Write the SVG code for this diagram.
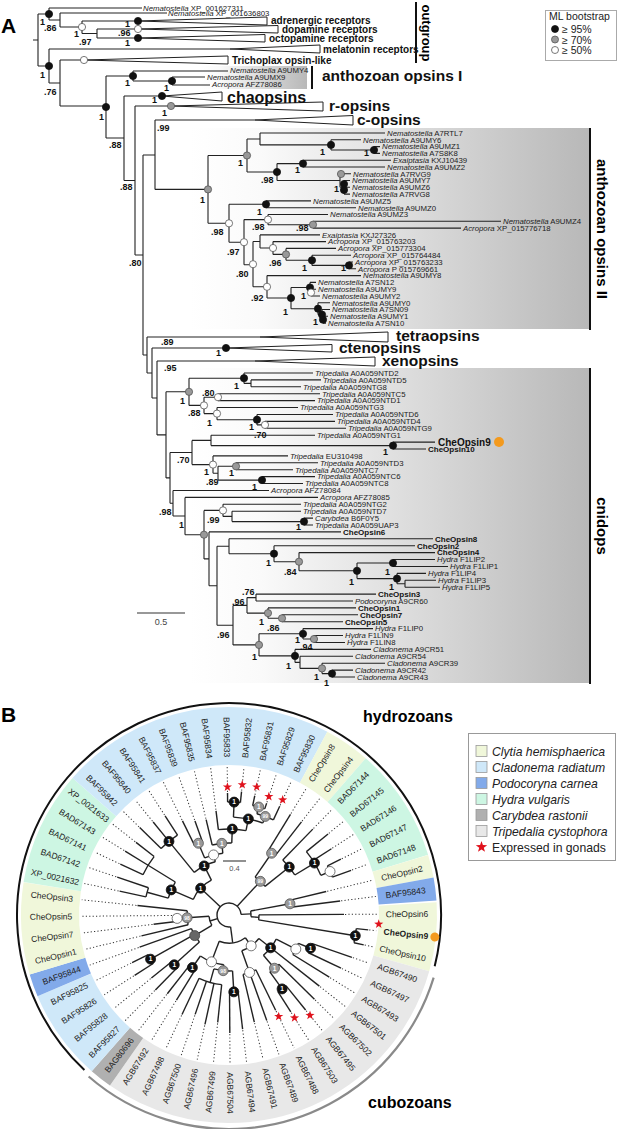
<svg xmlns="http://www.w3.org/2000/svg" xmlns:xlink="http://www.w3.org/1999/xlink" width="617" height="1129" viewBox="0 0 617 1129">
<defs>
<linearGradient id="gr" x1="0" y1="0" x2="1" y2="0"><stop offset="0" stop-color="#fff"/><stop offset="0.18" stop-color="#fafafa"/><stop offset="1" stop-color="#b8b8b8"/></linearGradient>
<path id="star" d="M0-4.8L1.12-1.54L4.57-1.48L1.81.59L2.82 3.88L0 1.9L-2.82 3.88L-1.81.59L-4.57-1.48L-1.12-1.54Z" fill="#e0121c"/>
<style>
text{font-family:"Liberation Sans",Arial,Helvetica,sans-serif}
.lf{font-size:7.8px;fill:#222}
.i{font-style:italic}
.cb{font-size:8px;font-weight:bold;fill:#111}
.sp{font-size:9px;font-weight:bold;fill:#111}
.bg{font-size:15.5px;font-weight:bold;fill:#111}
.og{font-size:10px;font-weight:bold;fill:#111}
.br{fill:none;stroke:#222;stroke-width:1.1}
.tri{fill:#fff;stroke:#222;stroke-width:1}
.nb{fill:#111;stroke:#111;stroke-width:.8}
.ng{fill:#999;stroke:#555;stroke-width:.8}
.nw{fill:#fff;stroke:#555;stroke-width:.8}
.nd{fill:#666;stroke:#444;stroke-width:.8}
.bar{stroke:#111;stroke-width:2}
.bl{fill:none;stroke:#222;stroke-width:1.4}
.ac{fill:none;stroke:#222;stroke-width:1.4}
.dt{fill:none;stroke:#333;stroke-width:1;stroke-dasharray:1.2 2.2}
.bt{font-size:8.5px;fill:#222;text-anchor:middle}
.nt{font-size:6.5px;font-weight:bold;text-anchor:middle}
.lg{font-size:12.2px;fill:#222}
</style>
</defs>
<rect width="617" height="1129" fill="#fff"/>

<g id="panelA">
<text x="1" y="33" style="font-size:21px;font-weight:bold">A</text>

<g id="shading">
<rect x="200" y="66" width="107" height="23" fill="url(#gr)"/>
<rect x="190" y="128" width="399" height="201" fill="url(#gr)"/>
<rect x="190" y="368" width="399" height="315" fill="url(#gr)"/>
<line class="bar" x1="312" y1="66" x2="312" y2="89"/>
<line class="bar" x1="590" y1="128" x2="590" y2="330"/>
<line class="bar" x1="590" y1="368" x2="590" y2="684"/>
<line class="bar" x1="416" y1="2" x2="416" y2="63"/>
</g>

<g id="connectorsA">
<path class="br" d="M33 40H38M38 14V66M38 14H49M49 8V20M49 8H142M49 20H60M60 13V27M60 13H167M60 27H82M82 21V33.5M82 21H138M82 33.5H97M97 29V38M97 29H138M97 38H138M38 66H49M49 49V83M49 49H230M49 83H60M60 60V106M60 60H84M60 106H106M106 76V138M106 76H133M133 71V81M133 71H228M133 81H172M172 77V85M172 77H205M172 85H210M106 138H124M124 96V180.5M124 96H162M124 180.5H135M135 106V255M135 106H171M135 255H143M143 155V355M143 155H155M155 120V189.4M155 120H255M155 189.4H208"/>
<path class="br" d="M208 155.5V223.3M208 155.5H247M247 139V172M247 139H260M260 133V144.9M260 133H385M260 144.9H331M331 139.8V150M331 139.8H361M331 150H374M374 146.6V153.4M374 146.6H380M374 153.4H380M247 172H277M277 163.6V180.5M277 163.6H303M303 160.2V167M303 160.2H391M303 167H385M277 180.5H340M340 173.7V187.3M340 173.7H351M340 187.3H344M344 180.5V194.1M344 180.5H350M344 187.3H350M344 194.1H350M208 223.3H229M229 204.3V242.3M229 204.3H266M266 200.9V207.7M266 200.9H311M266 207.7H356M229 242.3H244M244 219.6V264.8M244 219.6H268M268 214.5V224.7M268 214.5H328M268 224.7H313M313 221.3V228.1M313 221.3H501M313 228.1H461M244 264.8H253M253 241.5V286.8M253 241.5H260M260 234.9V248M260 234.9H320M260 248H273M273 241.6V254.4M273 241.6H326M273 254.4H286M286 248.4V260.3M286 248.4H336M286 260.3H312M312 255.2V265.4M312 255.2H351M312 265.4H349M349 262V268.8M349 262H353M349 268.8H356M253 286.8H267M267 275.6V298M267 275.6H361M267 298H291M291 287.5V308.7M291 287.5H310M291 308.7H318M310 282.4V292.6M310 282.4H316M310 292.6H311M311 289.2V296M311 289.2H316M311 296H320M318 302.8V314.6M318 302.8H330M318 314.6H322M322 309.5V319.7M322 309.5H330M322 319.7H323M323 316.3V323.1M323 316.3H328M323 323.1H326"/>
<path class="br" d="M143 355H147M147 337V373M147 337H260M147 373H152M152 348V398M152 348H226M152 398H157M157 361V434.9M157 361H255M157 434.9H166M166 391.8V477.9M166 391.8H189M189 378.2V405.4M189 378.2H244M244 373V383.4M244 373H313M244 383.4H251M251 379.9V386.8M251 379.9H321M251 386.8H301M189 405.4H204M204 397.2V413.6M204 397.2H218M204 413.6H217M218 393.7V400.6M218 393.7H320M218 400.6H315M217 407.5V419.7M217 407.5H298M217 419.7H257M257 414.5V424.9M257 414.5H333M257 424.9H265M265 421.4V428.3M265 421.4H335M265 428.3H346M166 477.9H170M170 452.5V503.3M170 452.5H192M192 440.4V464.6M192 440.4H211M192 464.6H213M211 435.2V445.6M211 435.2H315M211 445.6H393M393 442.1V449M393 442.1H435M393 449H426M213 455.9V473.2M213 455.9H288M213 473.2H218M218 466.3V480.1M218 466.3H236M218 480.1H262M236 462.8V469.7M236 462.8H318M236 469.7H293M262 476.6V483.5M262 476.6H315M262 483.5H303"/>
<path class="br" d="M170 503.3H173M173 490.5V516M173 490.5H269M173 516H185M185 497.4V534.7M185 497.4H318M185 534.7H204M204 510.4V558.9M204 510.4H223M204 558.9H209M223 504.3V516.4M223 504.3H301M223 516.4H232M232 511.2V521.6M232 511.2H301M232 521.6H304M304 518.1V525M304 518.1H313M304 525H313M209 531.9V585.8M209 531.9H341M209 585.8H217M217 546.3V625.2M217 546.3H229M217 625.2H233M229 538.8V553.7M229 538.8H433M229 553.7H274M274 545.7V561.7M274 545.7H415M274 561.7H299M299 552.6V570.8M299 552.6H435M299 570.8H357M357 563V578.6M357 563H393M357 578.6H397M393 559.5V566.5M393 559.5H435M393 566.5H448M397 573.4V583.8M397 573.4H426M397 583.8H405M405 580.3V587.2M405 580.3H436M405 587.2H440M233 605.4V644.9M233 605.4H247M233 644.9H259M247 597.6V613.1M247 597.6H256M247 613.1H268M256 594.1V601M256 594.1H376M256 601H353M268 607.9V618.3M268 607.9H356M268 618.3H282M282 614.8V621.7M282 614.8H358M282 621.7H343M259 633.8V655.9M259 633.8H303M259 655.9H295M303 628.6V639M303 628.6H373M303 639H314M314 635.5V642.5M314 635.5H343M314 642.5H345M295 649.4V662.4M295 649.4H371M295 662.4H300M300 656.3V668.4M300 656.3H353M300 668.4H322M322 663.2V673.6M322 663.2H385M322 673.6H332M332 670.1V677M332 670.1H353M332 677H355"/>
<polygon class="tri" points="138,21 267,17 267,25"/>
<polygon class="tri" points="138,29 278,25.5 278,33"/>
<polygon class="tri" points="138,38 265,34.5 265,42"/>
<polygon class="tri" points="230,49 320,45 320,53"/>
<polygon class="tri" points="84,60 228,56 228,64"/>
<polygon class="tri" points="162,96 222,92 222,101"/>
<polygon class="tri" points="171,106 323,102 323,111"/>
<polygon class="tri" points="255,120 353,115.5 353,125"/>
<polygon class="tri" points="260,337 388,332 388,342"/>
<polygon class="tri" points="226,348 332,344.5 332,352"/>
<polygon class="tri" points="255,361 375,357 375,366"/>
<line x1="137" y1="613" x2="185" y2="613" stroke="#333" stroke-width="1.2"/>
<text x="161" y="625" text-anchor="middle" style="font-size:9px;fill:#444">0.5</text>
</g>

<g id="nodesA">
<circle class="nb" cx="49" cy="14" r="3.6"/><circle class="nw" cx="82" cy="27" r="3.6"/><circle class="nb" cx="138" cy="21" r="3.6"/><circle class="nw" cx="138" cy="29" r="3.6"/><circle class="nb" cx="138" cy="38" r="3.6"/><circle class="nb" cx="49" cy="66" r="3.6"/><circle class="nw" cx="84" cy="60" r="3.6"/><circle class="nb" cx="133" cy="76" r="3.6"/><circle class="nb" cx="172" cy="81" r="3.6"/><circle class="nb" cx="106" cy="107" r="3.6"/><circle class="nb" cx="162" cy="96" r="3.6"/><circle class="ng" cx="171" cy="106" r="3.6"/>
<circle class="ng" cx="208" cy="189.4" r="3.6"/><circle class="ng" cx="247" cy="155.5" r="3.6"/><circle class="nb" cx="331" cy="144.9" r="3.6"/><circle class="nb" cx="374" cy="150" r="3.6"/><circle class="nb" cx="303" cy="163.6" r="3.6"/><circle class="nb" cx="277" cy="172" r="3.6"/><circle class="ng" cx="341" cy="174" r="3.6"/><circle class="nb" cx="344" cy="184" r="3.6"/><circle class="nb" cx="344" cy="190" r="3.6"/>
<circle class="nw" cx="229" cy="223.3" r="3.6"/><circle class="nb" cx="266" cy="204.3" r="3.6"/><circle class="nw" cx="268" cy="219.6" r="3.6"/><circle class="ng" cx="313" cy="224.7" r="3.6"/><circle class="nw" cx="244" cy="242.2" r="3.6"/><circle class="nw" cx="273" cy="248" r="3.6"/><circle class="ng" cx="286" cy="254.4" r="3.6"/><circle class="nb" cx="312" cy="260.3" r="3.6"/><circle class="nb" cx="349" cy="265.4" r="3.6"/><circle class="nw" cx="253" cy="264.2" r="3.6"/><circle class="nw" cx="267" cy="286.8" r="3.6"/><circle class="nb" cx="310" cy="287.5" r="3.6"/><circle class="nw" cx="311" cy="292.6" r="3.6"/><circle class="nb" cx="291" cy="298" r="3.6"/><circle class="nb" cx="318" cy="308.7" r="3.6"/><circle class="nb" cx="322" cy="314.6" r="3.6"/><circle class="nb" cx="323" cy="319.7" r="3.6"/>
<circle class="nb" cx="226" cy="348" r="3.6"/><circle class="ng" cx="189" cy="391.8" r="3.6"/><circle class="nb" cx="244" cy="378.2" r="3.6"/><circle class="nw" cx="218" cy="397.2" r="3.6"/><circle class="nw" cx="204" cy="405.4" r="3.6"/><circle class="nw" cx="217" cy="413.6" r="3.6"/><circle class="nb" cx="257" cy="419.7" r="3.6"/><circle class="nw" cx="265" cy="424.9" r="3.6"/><circle class="nb" cx="393" cy="445.6" r="3.6"/><circle class="nw" cx="213" cy="464.6" r="3.6"/><circle class="ng" cx="236" cy="466.3" r="3.6"/><circle class="nb" cx="262" cy="480.1" r="3.6"/><circle class="nw" cx="223" cy="510.4" r="3.6"/><circle class="nb" cx="304" cy="521.6" r="3.6"/><circle class="ng" cx="204" cy="534.7" r="3.6"/>
<circle class="nb" cx="274" cy="553.7" r="3.6"/><circle class="ng" cx="299" cy="561.7" r="3.6"/><circle class="nb" cx="357" cy="570.8" r="3.6"/><circle class="nb" cx="393" cy="563" r="3.6"/><circle class="nb" cx="397" cy="578.6" r="3.6"/><circle class="ng" cx="268" cy="613.1" r="3.6"/><circle class="ng" cx="282" cy="618.3" r="3.6"/><circle class="ng" cx="259" cy="644.9" r="3.6"/><circle class="nb" cx="303" cy="633.8" r="3.6"/><circle class="ng" cx="314" cy="639" r="3.6"/><circle class="nb" cx="295" cy="655.9" r="3.6"/><circle class="ng" cx="322" cy="668.4" r="3.6"/><circle class="nb" cx="332" cy="673.6" r="3.6"/>
<circle cx="499" cy="442" r="5" fill="#f39a1e"/>
</g>

<g id="supportA" class="sp">
<text x="40" y="25" class="sp">1</text><text x="44" y="31" class="sp">.86</text><text x="74" y="37" class="sp">1</text><text x="79" y="45" class="sp">.97</text><text x="125" y="27" class="sp">1</text><text x="118" y="36" class="sp">.96</text><text x="125" y="46" class="sp">1</text><text x="40" y="78" class="sp">1</text><text x="44" y="95" class="sp">.76</text><text x="125" y="86" class="sp">1</text><text x="164" y="91" class="sp">1</text><text x="99" y="120" class="sp">1</text><text x="152" y="103" class="sp">1</text><text x="162" y="116" class="sp">1</text><text x="157" y="131" class="sp">.99</text><text x="109" y="148" class="sp">.88</text><text x="120" y="190" class="sp">.88</text><text x="129" y="266" class="sp">.80</text>
<text x="200" y="203" class="sp">1</text><text x="238" y="166" class="sp">1</text><text x="295" y="173" class="sp">1</text><text x="261" y="183" class="sp">.98</text><text x="211" y="235" class="sp">.98</text><text x="257" y="215" class="sp">1</text><text x="252" y="230" class="sp">.98</text><text x="296" y="231" class="sp">.98</text><text x="227" y="255" class="sp">.97</text><text x="269" y="266" class="sp">.96</text><text x="302" y="271" class="sp">1</text><text x="236" y="277" class="sp">.80</text><text x="320" y="155" class="sp">1</text><text x="364" y="156" class="sp">1</text><text x="334" y="192" class="sp">1</text><text x="341" y="271" class="sp">1</text><text x="251" y="301" class="sp">.92</text><text x="301" y="299" class="sp">1</text><text x="283" y="315" class="sp">1</text><text x="313" y="325" class="sp">1</text>
<text x="161" y="345" class="sp">.89</text><text x="216" y="356" class="sp">1</text><text x="164" y="371" class="sp">.95</text><text x="180" y="404" class="sp">1</text><text x="234" y="389" class="sp">1</text><text x="202" y="396" class="sp">.80</text><text x="188" y="416" class="sp">.88</text><text x="207" y="426" class="sp">1</text><text x="249" y="430" class="sp">1</text><text x="254" y="438" class="sp">.70</text><text x="383" y="455" class="sp">1</text><text x="177" y="463" class="sp">.70</text><text x="204" y="475" class="sp">1</text><text x="229" y="476" class="sp">1</text><text x="206" y="485" class="sp">.89</text><text x="252" y="490" class="sp">1</text><text x="159" y="515" class="sp">.98</text><text x="179" y="528" class="sp">1</text><text x="207" y="523" class="sp">.99</text><text x="296" y="530" class="sp">1</text>
<text x="266" y="566" class="sp">1</text><text x="284" y="575" class="sp">.84</text><text x="349" y="585" class="sp">1</text><text x="385" y="575" class="sp">1</text><text x="389" y="590" class="sp">1</text><text x="242" y="595" class="sp">.76</text><text x="232" y="605" class="sp">.96</text><text x="259" y="625" class="sp">1</text><text x="267" y="631" class="sp">.86</text><text x="217" y="638" class="sp">.96</text><text x="295" y="643" class="sp">1</text><text x="300" y="650" class="sp">.94</text><text x="252" y="660" class="sp">1</text><text x="286" y="669" class="sp">1</text><text x="314" y="680" class="sp">1</text><text x="324" y="686" class="sp">1</text>
</g>

<g id="cladeLabelsA">
<text class="og" x="271" y="24">adrenergic receptors</text>
<text class="og" x="282" y="32.5">dopamine receptors</text>
<text class="og" x="269" y="41.5">octopamine receptors</text>
<text class="og" x="323" y="52.5">melatonin receptors</text>
<text class="og" x="232" y="63.5">Trichoplax opsin-like</text>
<text class="bg" x="322" y="81">anthozoan opsins I</text>
<text class="bg" x="227" y="102.5" style="font-size:16px">chaopsins</text>
<text class="bg" x="329" y="111">r-opsins</text>
<text class="bg" x="357" y="125">c-opsins</text>
<text class="bg" x="396" y="341">tetraopsins</text>
<text class="bg" x="339" y="353">ctenopsins</text>
<text class="bg" x="382" y="366">xenopsins</text>
<text x="422" y="33" transform="rotate(90 422 33)" text-anchor="middle" style="font-size:13px;font-weight:bold">outgroup</text>
<text x="597" y="229" transform="rotate(90 597 229)" text-anchor="middle" style="font-size:15px;font-weight:bold">anthozoan opsins II</text>
<text x="597" y="526" transform="rotate(90 597 526)" text-anchor="middle" style="font-size:15px;font-weight:bold">cnidops</text>
</g>

<g id="leavesA" class="lf">
<text class="lf" x="143" y="10.5"><tspan class="i">Nematostella</tspan> XP_001627311</text>
<text class="lf" x="168" y="15.5"><tspan class="i">Nematostella</tspan> XP_001636803</text>
<text class="lf" x="230" y="73"><tspan class="i">Nematostella</tspan> A9UMY4</text>
<text class="lf" x="207" y="79.5"><tspan class="i">Nematostella</tspan> A9UMX9</text>
<text class="lf" x="212" y="87"><tspan class="i">Acropora</tspan> AFZ78086</text>
<text class="lf" x="387" y="135.8"><tspan class="i">Nematostella</tspan> A7RTL7</text>
<text class="lf" x="363" y="142.6"><tspan class="i">Nematostella</tspan> A9UMY6</text>
<text class="lf" x="382" y="149.4"><tspan class="i">Nematostella</tspan> A9UMZ1</text>
<text class="lf" x="382" y="156.2"><tspan class="i">Nematostella</tspan> A7S8K8</text>
<text class="lf" x="393" y="163"><tspan class="i">Exaiptasia</tspan> KXJ10439</text>
<text class="lf" x="387" y="169.8"><tspan class="i">Nematostella</tspan> A9UMZ2</text>
<text class="lf" x="353" y="176.5"><tspan class="i">Nematostella</tspan> A7RVG9</text>
<text class="lf" x="352" y="183.3"><tspan class="i">Nematostella</tspan> A9UMY7</text>
<text class="lf" x="352" y="190.1"><tspan class="i">Nematostella</tspan> A9UMZ6</text>
<text class="lf" x="352" y="196.9"><tspan class="i">Nematostella</tspan> A7RVG8</text>
<text class="lf" x="313" y="203.7"><tspan class="i">Nematostella</tspan> A9UMZ5</text>
<text class="lf" x="358" y="210.5"><tspan class="i">Nematostella</tspan> A9UMZ0</text>
<text class="lf" x="330" y="217.3"><tspan class="i">Nematostella</tspan> A9UMZ3</text>
<text class="lf" x="503" y="224.1"><tspan class="i">Nematostella</tspan> A9UMZ4</text>
<text class="lf" x="463" y="230.9"><tspan class="i">Acropora</tspan> XP_015776718</text>
<text class="lf" x="322" y="237.7"><tspan class="i">Exaiptasia</tspan> KXJ27326</text>
<text class="lf" x="328" y="244.4"><tspan class="i">Acropora</tspan> XP_015763203</text>
<text class="lf" x="338" y="251.2"><tspan class="i">Acropora</tspan> XP_015773304</text>
<text class="lf" x="353" y="258"><tspan class="i">Acropora</tspan> XP_015764484</text>
<text class="lf" x="355" y="264.8"><tspan class="i">Acropora</tspan> XP_015763233</text>
<text class="lf" x="358" y="271.6"><tspan class="i">Acropora</tspan> P 015769661</text>
<text class="lf" x="363" y="278.4"><tspan class="i">Nematostella</tspan> A9UMY8</text>
<text class="lf" x="318" y="285.2"><tspan class="i">Nematostella</tspan> A7SN12</text>
<text class="lf" x="318" y="292"><tspan class="i">Nematostella</tspan> A9UMY9</text>
<text class="lf" x="322" y="298.8"><tspan class="i">Nematostella</tspan> A9UMY2</text>
<text class="lf" x="332" y="305.6"><tspan class="i">Nematostella</tspan> A9UMY0</text>
<text class="lf" x="332" y="312.3"><tspan class="i">Nematostella</tspan> A7SN09</text>
<text class="lf" x="330" y="319.1"><tspan class="i">Nematostella</tspan> A9UMY1</text>
<text class="lf" x="328" y="325.9"><tspan class="i">Nematostella</tspan> A7SN10</text>
<text class="lf" x="315" y="375.8"><tspan class="i">Tripedalia</tspan> A0A059NTD2</text>
<text class="lf" x="323" y="382.7"><tspan class="i">Tripedalia</tspan> A0A059NTD5</text>
<text class="lf" x="303" y="389.6"><tspan class="i">Tripedalia</tspan> A0A059NTG8</text>
<text class="lf" x="322" y="396.5"><tspan class="i">Tripedalia</tspan> A0A059NTC5</text>
<text class="lf" x="317" y="403.4"><tspan class="i">Tripedalia</tspan> A0A059NTD1</text>
<text class="lf" x="300" y="410.3"><tspan class="i">Tripedalia</tspan> A0A059NTG3</text>
<text class="lf" x="335" y="417.3"><tspan class="i">Tripedalia</tspan> A0A059NTD6</text>
<text class="lf" x="337" y="424.2"><tspan class="i">Tripedalia</tspan> A0A059NTD4</text>
<text class="lf" x="348" y="431.1"><tspan class="i">Tripedalia</tspan> A0A059NTG9</text>
<text class="lf" x="317" y="438"><tspan class="i">Tripedalia</tspan> A0A059NTG1</text>
<text x="438" y="445.6" style="font-size:10px;font-weight:bold;fill:#111">CheOpsin9</text>
<text class="cb" x="428" y="451.8">CheOpsin10</text>
<text class="lf" x="290" y="458.7"><tspan class="i">Tripedalia</tspan> EU310498</text>
<text class="lf" x="320" y="465.6"><tspan class="i">Tripedalia</tspan> A0A059NTD3</text>
<text class="lf" x="295" y="472.5"><tspan class="i">Tripedalia</tspan> A0A059NTC7</text>
<text class="lf" x="317" y="479.4"><tspan class="i">Tripedalia</tspan> A0A059NTC6</text>
<text class="lf" x="305" y="486.3"><tspan class="i">Tripedalia</tspan> A0A059NTC8</text>
<text class="lf" x="271" y="493.3"><tspan class="i">Acropora</tspan> AFZ78084</text>
<text class="lf" x="320" y="500.2"><tspan class="i">Acropora</tspan> AFZ78085</text>
<text class="lf" x="303" y="507.1"><tspan class="i">Tripedalia</tspan> A0A059NTG2</text>
<text class="lf" x="303" y="514"><tspan class="i">Tripedalia</tspan> A0A059NTD7</text>
<text class="lf" x="315" y="520.9"><tspan class="i">Carybdea</tspan> B6F0Y5</text>
<text class="lf" x="315" y="527.8"><tspan class="i">Tripedalia</tspan> A0A059UAP3</text>
<text class="cb" x="343" y="534.7">CheOpsin6</text>
<text class="cb" x="435" y="541.6">CheOpsin8</text>
<text class="cb" x="417" y="548.5">CheOpsin2</text>
<text class="cb" x="437" y="555.4">CheOpsin4</text>
<text class="lf" x="437" y="562.3"><tspan class="i">Hydra</tspan> F1LIP2</text>
<text class="lf" x="450" y="569.3"><tspan class="i">Hydra</tspan> F1LIP1</text>
<text class="lf" x="428" y="576.2"><tspan class="i">Hydra</tspan> F1LIP4</text>
<text class="lf" x="438" y="583.1"><tspan class="i">Hydra</tspan> F1LIP3</text>
<text class="lf" x="442" y="590"><tspan class="i">Hydra</tspan> F1LIP5</text>
<text class="cb" x="378" y="596.9">CheOpsin3</text>
<text class="lf" x="355" y="603.8"><tspan class="i">Podocoryna</tspan> A9CR60</text>
<text class="cb" x="358" y="610.7">CheOpsin1</text>
<text class="cb" x="360" y="617.6">CheOpsin7</text>
<text class="cb" x="345" y="624.5">CheOpsin5</text>
<text class="lf" x="375" y="631.4"><tspan class="i">Hydra</tspan> F1LIP0</text>
<text class="lf" x="345" y="638.3"><tspan class="i">Hydra</tspan> F1LIN9</text>
<text class="lf" x="347" y="645.3"><tspan class="i">Hydra</tspan> F1LIN8</text>
<text class="lf" x="373" y="652.2"><tspan class="i">Cladonema</tspan> A9CR51</text>
<text class="lf" x="355" y="659.1"><tspan class="i">Cladonema</tspan> A9CR54</text>
<text class="lf" x="387" y="666"><tspan class="i">Cladonema</tspan> A9CR39</text>
<text class="lf" x="355" y="672.9"><tspan class="i">Cladonema</tspan> A9CR42</text>
<text class="lf" x="357" y="679.8"><tspan class="i">Cladonema</tspan> A9CR43</text>
</g>

<g id="legendA">
<rect x="545.5" y="10.5" width="71" height="50" fill="#fff" stroke="#aaa"/>
<text x="549" y="20" style="font-size:10.5px;fill:#222">ML bootstrap</text>
<circle class="nb" cx="555" cy="29" r="3.5"/><text x="562" y="33" style="font-size:10.5px;fill:#222">≥ 95%</text>
<circle class="ng" cx="555" cy="39.5" r="3.5"/><text x="562" y="43.5" style="font-size:10.5px;fill:#222">≥ 70%</text>
<circle class="nw" cx="555" cy="50" r="3.5"/><text x="562" y="54" style="font-size:10.5px;fill:#222">≥ 50%</text>
</g>
</g>

<g id="panelB">
<text x="1" y="722" style="font-size:21px;font-weight:bold">B</text>
<text x="363" y="722" style="font-size:16px;font-weight:bold">hydrozoans</text>
<text x="368" y="1108" style="font-size:16px;font-weight:bold">cubozoans</text>
<g transform="translate(229 915)">
<g id="bands" fill="none" stroke-width="58">
<circle r="179" pathLength="360" stroke="#f0f7da" stroke-dasharray="19.22 360" transform="rotate(-3.51)"/>
<circle r="179" pathLength="360" stroke="#e8e8e8" stroke-dasharray="109.2 360" transform="rotate(15.71)"/>
<circle r="179" pathLength="360" stroke="#b0b0b0" stroke-dasharray="6.4 360" transform="rotate(124.91)"/>
<circle r="179" pathLength="360" stroke="#cfe8f9" stroke-dasharray="25.69 360" transform="rotate(131.31)"/>
<circle r="179" pathLength="360" stroke="#82aaea" stroke-dasharray="6.41 360" transform="rotate(157)"/>
<circle r="179" pathLength="360" stroke="#f0f7da" stroke-dasharray="25.69 360" transform="rotate(163.41)"/>
<circle r="179" pathLength="360" stroke="#cdf6e3" stroke-dasharray="32.1 360" transform="rotate(189.1)"/>
<circle r="179" pathLength="360" stroke="#cfe8f9" stroke-dasharray="77 360" transform="rotate(221.2)"/>
<circle r="179" pathLength="360" stroke="#f0f7da" stroke-dasharray="12.9 360" transform="rotate(298.2)"/>
<circle r="179" pathLength="360" stroke="#cdf6e3" stroke-dasharray="32.1 360" transform="rotate(311.1)"/>
<circle r="179" pathLength="360" stroke="#f0f7da" stroke-dasharray="6.4 360" transform="rotate(343.2)"/>
<circle r="179" pathLength="360" stroke="#82aaea" stroke-dasharray="6.4 360" transform="rotate(349.6)"/>
</g>
<circle r="212" pathLength="360" fill="none" stroke="#111" stroke-width="2" stroke-dasharray="241 360" transform="rotate(133)"/>
<circle r="214" pathLength="360" fill="none" stroke="#8a8a8a" stroke-width="2.2" stroke-dasharray="114 360" transform="rotate(17)"/>

<g id="connectorsB">
<g class="ac">
<circle r="12" pathLength="360" stroke-dasharray="274.8 360" transform="rotate(82.4)"/>
<circle r="22" pathLength="360" stroke-dasharray="14.9 360" transform="rotate(349.6)"/>
<circle r="62" pathLength="360" stroke-dasharray="6.4 360" transform="rotate(346.4)"/>
<circle r="30" pathLength="360" stroke-dasharray="9.6 360" transform="rotate(-0.3)"/>
<circle r="128" pathLength="360" stroke-dasharray="6.4 360" transform="rotate(6.1)"/>
<circle r="28" pathLength="360" stroke-dasharray="56.2 360" transform="rotate(54.3)"/>
<circle r="38" pathLength="360" stroke-dasharray="32.05 360" transform="rotate(38.25)"/>
<circle r="53" pathLength="360" stroke-dasharray="22.5 360" transform="rotate(27)"/>
<circle r="75" pathLength="360" stroke-dasharray="9.6 360" transform="rotate(22.2)"/>
<circle r="88" pathLength="360" stroke-dasharray="6.4 360" transform="rotate(19)"/>
<circle r="70" pathLength="360" stroke-dasharray="9.7 360" transform="rotate(44.6)"/>
<circle r="91" pathLength="360" stroke-dasharray="6.4 360" transform="rotate(51.1)"/>
<circle r="61" pathLength="360" stroke-dasharray="12.8 360" transform="rotate(63.9)"/>
<circle r="50" pathLength="360" stroke-dasharray="28.9 360" transform="rotate(96)"/>
<circle r="56" pathLength="360" stroke-dasharray="19.25 360" transform="rotate(86.4)"/>
<circle r="77" pathLength="360" stroke-dasharray="6.4 360" transform="rotate(83.2)"/>
<circle r="70" pathLength="360" stroke-dasharray="19.3 360" transform="rotate(96)"/>
<circle r="64" pathLength="360" stroke-dasharray="6.4 360" transform="rotate(121.7)"/>
<circle r="20" pathLength="360" stroke-dasharray="27.25 360" transform="rotate(149)"/>
<circle r="40" pathLength="360" stroke-dasharray="22.5 360" transform="rotate(137.7)"/>
<circle r="74" pathLength="360" stroke-dasharray="6.4 360" transform="rotate(134.5)"/>
<circle r="90" pathLength="360" stroke-dasharray="6.4 360" transform="rotate(147.4)"/>
<circle r="42" pathLength="360" stroke-dasharray="19.3 360" transform="rotate(166.6)"/>
<circle r="51" pathLength="360" stroke-dasharray="6.5 360" transform="rotate(173)"/>
<circle r="39" pathLength="360" stroke-dasharray="39.7 360" transform="rotate(203.5)"/>
<circle r="63" pathLength="360" stroke-dasharray="16.1 360" transform="rotate(195.5)"/>
<circle r="85" pathLength="360" stroke-dasharray="6.4 360" transform="rotate(192.3)"/>
<circle r="95" pathLength="360" stroke-dasharray="12.9 360" transform="rotate(205.1)"/>
<circle r="55" pathLength="360" stroke-dasharray="24.8 360" transform="rotate(230.8)"/>
<circle r="95" pathLength="360" stroke-dasharray="12.8 360" transform="rotate(224.4)"/>
<circle r="62" pathLength="360" stroke-dasharray="17.4 360" transform="rotate(246.9)"/>
<circle r="78" pathLength="360" stroke-dasharray="6.4 360" transform="rotate(243.7)"/>
<circle r="72" pathLength="360" stroke-dasharray="15.7 360" transform="rotate(256.5)"/>
<circle r="86" pathLength="360" stroke-dasharray="18.5 360" transform="rotate(262.9)"/>
<circle r="98" pathLength="360" stroke-dasharray="17.6 360" transform="rotate(272.6)"/>
<circle r="113" pathLength="360" stroke-dasharray="6.5 360" transform="rotate(269.3)"/>
<circle r="105" pathLength="360" stroke-dasharray="9.6 360" transform="rotate(285.4)"/>
<circle r="112" pathLength="360" stroke-dasharray="6.4 360" transform="rotate(282.2)"/>
<circle r="46" pathLength="360" stroke-dasharray="16.9 360" transform="rotate(304.6)"/>
<circle r="75" pathLength="360" stroke-dasharray="6.5 360" transform="rotate(301.4)"/>
<circle r="77" pathLength="360" stroke-dasharray="14.4 360" transform="rotate(314.3)"/>
<circle r="100" pathLength="360" stroke-dasharray="16 360" transform="rotate(320.7)"/>
<circle r="110" pathLength="360" stroke-dasharray="6.4 360" transform="rotate(333.5)"/>
</g>
<g class="bl">
<path d="M12 0H22" transform="rotate(357.05)"/><path d="M12 0H28" transform="rotate(82.4)"/><path d="M12 0H20" transform="rotate(162.6)"/><path d="M12 0H39" transform="rotate(223.4)"/><path d="M12 0H46" transform="rotate(313)"/>
<path d="M22 0H62" transform="rotate(349.6)"/><path d="M22 0H30" transform="rotate(4.5)"/>
<path d="M62 0H100" transform="rotate(346.4)"/><path d="M62 0H112" transform="rotate(352.8)"/>
<path d="M30 0H115" transform="rotate(-0.3)"/><path d="M30 0H128" transform="rotate(9.3)"/>
<path d="M128 0H140" transform="rotate(6.1)"/><path d="M128 0H138" transform="rotate(12.5)"/>
<path d="M28 0H38" transform="rotate(54.3)"/><path d="M28 0H50" transform="rotate(110.5)"/>
<path d="M38 0H53" transform="rotate(38.25)"/><path d="M38 0H61" transform="rotate(70.3)"/>
<path d="M53 0H75" transform="rotate(27)"/><path d="M53 0H115" transform="rotate(38.2)"/><path d="M53 0H70" transform="rotate(49.5)"/>
<path d="M75 0H88" transform="rotate(22.2)"/><path d="M75 0H118" transform="rotate(31.8)"/>
<path d="M88 0H130" transform="rotate(19)"/><path d="M88 0H124" transform="rotate(25.4)"/>
<path d="M70 0H120" transform="rotate(44.6)"/><path d="M70 0H91" transform="rotate(54.3)"/>
<path d="M91 0H122" transform="rotate(51.1)"/><path d="M91 0H115" transform="rotate(57.5)"/>
<path d="M61 0H106" transform="rotate(63.9)"/><path d="M61 0H112" transform="rotate(70.3)"/><path d="M61 0H110" transform="rotate(76.7)"/>
<path d="M50 0H56" transform="rotate(96)"/><path d="M50 0H64" transform="rotate(124.9)"/>
<path d="M56 0H77" transform="rotate(86.4)"/><path d="M56 0H70" transform="rotate(105.65)"/>
<path d="M77 0H115" transform="rotate(83.2)"/><path d="M77 0H118" transform="rotate(89.6)"/>
<path d="M70 0H108" transform="rotate(96)"/><path d="M70 0H112" transform="rotate(102.4)"/><path d="M70 0H105" transform="rotate(108.8)"/><path d="M70 0H110" transform="rotate(115.3)"/>
<path d="M64 0H100" transform="rotate(121.7)"/><path d="M64 0H100" transform="rotate(128.1)"/>
<path d="M20 0H40" transform="rotate(149)"/><path d="M20 0H42" transform="rotate(176.25)"/>
<path d="M40 0H74" transform="rotate(137.7)"/><path d="M40 0H90" transform="rotate(150.6)"/><path d="M40 0H95" transform="rotate(160.2)"/>
<path d="M74 0H105" transform="rotate(134.5)"/><path d="M74 0H100" transform="rotate(140.9)"/>
<path d="M90 0H112" transform="rotate(147.4)"/><path d="M90 0H108" transform="rotate(153.8)"/>
<path d="M42 0H90" transform="rotate(166.6)"/><path d="M42 0H51" transform="rotate(176.25)"/><path d="M42 0H92" transform="rotate(185.9)"/>
<path d="M51 0H76" transform="rotate(173)"/><path d="M51 0H56" transform="rotate(179.5)"/>
<path d="M39 0H63" transform="rotate(203.5)"/><path d="M39 0H55" transform="rotate(243.2)"/>
<path d="M63 0H85" transform="rotate(195.5)"/><path d="M63 0H95" transform="rotate(211.6)"/>
<path d="M85 0H112" transform="rotate(192.3)"/><path d="M85 0H118" transform="rotate(198.7)"/>
<path d="M95 0H120" transform="rotate(205.1)"/><path d="M95 0H122" transform="rotate(211.6)"/><path d="M95 0H118" transform="rotate(218)"/>
<path d="M55 0H95" transform="rotate(230.8)"/><path d="M55 0H62" transform="rotate(255.6)"/>
<path d="M95 0H125" transform="rotate(224.4)"/><path d="M95 0H120" transform="rotate(230.8)"/><path d="M95 0H118" transform="rotate(237.2)"/>
<path d="M62 0H78" transform="rotate(246.9)"/><path d="M62 0H72" transform="rotate(264.3)"/>
<path d="M78 0H105" transform="rotate(243.7)"/><path d="M78 0H100" transform="rotate(250.1)"/>
<path d="M72 0H98" transform="rotate(256.5)"/><path d="M72 0H86" transform="rotate(272.2)"/>
<path d="M86 0H105" transform="rotate(262.9)"/><path d="M86 0H98" transform="rotate(281.4)"/>
<path d="M98 0H113" transform="rotate(272.6)"/><path d="M98 0H105" transform="rotate(290.2)"/>
<path d="M113 0H122" transform="rotate(269.3)"/><path d="M113 0H124" transform="rotate(275.8)"/>
<path d="M105 0H112" transform="rotate(285.4)"/><path d="M105 0H120" transform="rotate(295)"/>
<path d="M112 0H122" transform="rotate(282.2)"/><path d="M112 0H118" transform="rotate(288.6)"/>
<path d="M46 0H75" transform="rotate(304.6)"/><path d="M46 0H77" transform="rotate(321.5)"/>
<path d="M75 0H118" transform="rotate(301.4)"/><path d="M75 0H118" transform="rotate(307.9)"/>
<path d="M77 0H120" transform="rotate(314.3)"/><path d="M77 0H100" transform="rotate(328.7)"/>
<path d="M100 0H128" transform="rotate(320.7)"/><path d="M100 0H122" transform="rotate(327.1)"/><path d="M100 0H110" transform="rotate(336.7)"/>
<path d="M110 0H125" transform="rotate(333.5)"/><path d="M110 0H130" transform="rotate(339.9)"/>
</g>
<g class="dt">
<path d="M116 0H148" transform="rotate(-0.3)"/><path d="M141 0H148" transform="rotate(6.1)"/><path d="M139 0H148" transform="rotate(12.5)"/><path d="M131 0H148" transform="rotate(19)"/><path d="M125 0H148" transform="rotate(25.4)"/><path d="M119 0H148" transform="rotate(31.8)"/><path d="M116 0H148" transform="rotate(38.2)"/><path d="M121 0H148" transform="rotate(44.6)"/><path d="M123 0H148" transform="rotate(51.1)"/><path d="M116 0H148" transform="rotate(57.5)"/><path d="M107 0H148" transform="rotate(63.9)"/><path d="M113 0H148" transform="rotate(70.3)"/><path d="M111 0H148" transform="rotate(76.7)"/><path d="M116 0H148" transform="rotate(83.2)"/><path d="M119 0H148" transform="rotate(89.6)"/><path d="M109 0H148" transform="rotate(96)"/><path d="M113 0H148" transform="rotate(102.4)"/><path d="M106 0H148" transform="rotate(108.8)"/><path d="M111 0H148" transform="rotate(115.3)"/><path d="M101 0H148" transform="rotate(121.7)"/><path d="M101 0H148" transform="rotate(128.1)"/><path d="M106 0H148" transform="rotate(134.5)"/><path d="M101 0H148" transform="rotate(140.9)"/><path d="M113 0H148" transform="rotate(147.4)"/><path d="M109 0H148" transform="rotate(153.8)"/><path d="M96 0H148" transform="rotate(160.2)"/><path d="M91 0H148" transform="rotate(166.6)"/><path d="M77 0H148" transform="rotate(173)"/><path d="M57 0H148" transform="rotate(179.5)"/><path d="M93 0H148" transform="rotate(185.9)"/><path d="M113 0H148" transform="rotate(192.3)"/><path d="M119 0H148" transform="rotate(198.7)"/><path d="M121 0H148" transform="rotate(205.1)"/><path d="M123 0H148" transform="rotate(211.6)"/><path d="M119 0H148" transform="rotate(218)"/><path d="M126 0H148" transform="rotate(224.4)"/><path d="M121 0H148" transform="rotate(230.8)"/><path d="M119 0H148" transform="rotate(237.2)"/><path d="M106 0H148" transform="rotate(243.7)"/><path d="M101 0H148" transform="rotate(250.1)"/><path d="M99 0H148" transform="rotate(256.5)"/><path d="M106 0H148" transform="rotate(262.9)"/><path d="M123 0H148" transform="rotate(269.3)"/><path d="M125 0H148" transform="rotate(275.8)"/><path d="M123 0H148" transform="rotate(282.2)"/><path d="M119 0H148" transform="rotate(288.6)"/><path d="M121 0H148" transform="rotate(295)"/><path d="M119 0H148" transform="rotate(301.4)"/><path d="M119 0H148" transform="rotate(307.9)"/><path d="M121 0H148" transform="rotate(314.3)"/><path d="M129 0H148" transform="rotate(320.7)"/><path d="M123 0H148" transform="rotate(327.1)"/><path d="M126 0H148" transform="rotate(333.5)"/><path d="M131 0H148" transform="rotate(339.9)"/><path d="M101 0H148" transform="rotate(346.4)"/><path d="M113 0H148" transform="rotate(352.8)"/>
</g>
</g>

<g id="nodesB">
<g transform="rotate(349.6) translate(62 0) rotate(-349.6)"><circle r="5" class="ng"/><text class="nt" y="2.3" fill="#fff">1</text></g>
<g transform="rotate(9.3) translate(128 0) rotate(-9.3)"><circle r="5" class="nb"/><text class="nt" y="2.3" fill="#fff">1</text></g>
<g transform="rotate(27) translate(75 0) rotate(-27)"><circle r="5" class="nw"/></g>
<g transform="rotate(22.2) translate(88 0) rotate(-22.2)"><circle r="5" class="nb"/><text class="nt" y="2.3" fill="#fff">1</text></g>
<g transform="rotate(38.25) translate(53 0) rotate(-38.25)"><circle r="5" class="nb"/><text class="nt" y="2.3" fill="#fff">1</text></g>
<g transform="rotate(49.5) translate(70 0) rotate(-49.5)"><circle r="5" class="ng"/><text class="nt" y="2.3" fill="#fff">1</text></g>
<g transform="rotate(54.3) translate(91 0) rotate(-54.3)"><circle r="5" class="nb"/><text class="nt" y="2.3" fill="#fff">1</text></g>
<g transform="rotate(54.3) translate(38 0) rotate(-54.3)"><circle r="5" class="nw"/></g>
<g transform="rotate(70.3) translate(61 0) rotate(-70.3)"><circle r="5" class="nw"/></g>
<g transform="rotate(110.5) translate(50 0) rotate(-110.5)"><circle r="5" class="nw"/></g>
<g transform="rotate(96) translate(56 0) rotate(-96)"><circle r="5" class="ng"/><text class="nt" y="2" fill="#fff" style="font-size:5px">98</text></g>
<g transform="rotate(86.4) translate(77 0) rotate(-86.4)"><circle r="5" class="nb"/><text class="nt" y="2.3" fill="#fff">1</text></g>
<g transform="rotate(124.9) translate(64 0) rotate(-124.9)"><circle r="5" class="nb"/><text class="nt" y="2.3" fill="#fff">1</text></g>
<g transform="rotate(149) translate(40 0) rotate(-149)"><circle r="5" class="nd"/></g>
<g transform="rotate(137.7) translate(74 0) rotate(-137.7)"><circle r="5" class="nb"/><text class="nt" y="2.3" fill="#fff">1</text></g>
<g transform="rotate(150.6) translate(90 0) rotate(-150.6)"><circle r="5" class="nb"/><text class="nt" y="2.3" fill="#fff">1</text></g>
<g transform="rotate(176.25) translate(42 0) rotate(-176.25)"><circle r="5" class="ng"/><text class="nt" y="2" fill="#fff" style="font-size:5px">98</text></g>
<g transform="rotate(176.25) translate(52 0) rotate(-176.25)"><circle r="5" class="nw"/></g>
<g transform="rotate(223.4) translate(39 0) rotate(-223.4)"><circle r="5" class="nb"/><text class="nt" y="2.3" fill="#fff">1</text></g>
<g transform="rotate(203.5) translate(63 0) rotate(-203.5)"><circle r="5" class="nb"/><text class="nt" y="2.3" fill="#fff">1</text></g>
<g transform="rotate(243.2) translate(55 0) rotate(-243.2)"><circle r="5" class="nb"/><text class="nt" y="2.3" fill="#fff">1</text></g>
<g transform="rotate(230.8) translate(95 0) rotate(-230.8)"><circle r="5" class="nb"/><text class="nt" y="2.3" fill="#fff">1</text></g>
<g transform="rotate(255.6) translate(62 0) rotate(-255.6)"><circle r="5" class="nw"/></g>
<g transform="rotate(246.9) translate(78 0) rotate(-246.9)"><circle r="5" class="ng"/><text class="nt" y="2.3" fill="#fff">1</text></g>
<g transform="rotate(264.3) translate(72 0) rotate(-264.3)"><circle r="5" class="ng"/><text class="nt" y="2.3" fill="#fff">1</text></g>
<g transform="rotate(272.2) translate(86 0) rotate(-272.2)"><circle r="5" class="nb"/><text class="nt" y="2.3" fill="#fff">1</text></g>
<g transform="rotate(281.4) translate(98 0) rotate(-281.4)"><circle r="5" class="nb"/><text class="nt" y="2.3" fill="#fff">1</text></g>
<g transform="rotate(272.6) translate(113 0) rotate(-272.6)"><circle r="5" class="nb"/><text class="nt" y="2.3" fill="#fff">1</text></g>
<g transform="rotate(290.2) translate(105 0) rotate(-290.2)"><circle r="5" class="ng"/><text class="nt" y="2" fill="#fff" style="font-size:5px">99</text></g>
<g transform="rotate(285.4) translate(112 0) rotate(-285.4)"><circle r="5" class="ng"/><text class="nt" y="2.3" fill="#fff">1</text></g>
<g transform="rotate(313) translate(46 0) rotate(-313)"><circle r="5" class="ng"/><text class="nt" y="2" fill="#fff" style="font-size:5px">99</text></g>
<g transform="rotate(304.6) translate(75 0) rotate(-304.6)"><circle r="5" class="ng"/><text class="nt" y="2.3" fill="#fff">1</text></g>
<g transform="rotate(321.5) translate(77 0) rotate(-321.5)"><circle r="5" class="nb"/><text class="nt" y="2.3" fill="#fff">1</text></g>
<g transform="rotate(328.7) translate(100 0) rotate(-328.7)"><circle r="5" class="nb"/><text class="nt" y="2.3" fill="#fff">1</text></g>
<g transform="rotate(336.7) translate(110 0) rotate(-336.7)"><circle r="5" class="nw"/></g>
</g>

<g id="stars">
<use xlink:href="#star" href="#star" transform="rotate(269.3) translate(128 0) rotate(-269.3)"/>
<use xlink:href="#star" href="#star" transform="rotate(275.8) translate(131 0) rotate(-275.8)"/>
<use xlink:href="#star" href="#star" transform="rotate(282.2) translate(131 0) rotate(-282.2)"/>
<use xlink:href="#star" href="#star" transform="rotate(288.6) translate(125 0) rotate(-288.6)"/>
<use xlink:href="#star" href="#star" transform="rotate(295) translate(127 0) rotate(-295)"/>
<use xlink:href="#star" href="#star" transform="rotate(51.1) translate(129 0) rotate(-51.1)"/>
<use xlink:href="#star" href="#star" transform="rotate(57.5) translate(122 0) rotate(-57.5)"/>
<use xlink:href="#star" href="#star" transform="rotate(63.9) translate(113 0) rotate(-63.9)"/>
<use xlink:href="#star" href="#star" transform="rotate(3.5) translate(150 0) rotate(-3.5)"/>
<circle r="4.5" fill="#f39a1e" transform="rotate(6.1) translate(207 0)"/>
</g>

<g id="labelsB" class="bt">
<text class="bt" dy="3" transform="rotate(-0.3) translate(178 0)">CheOpsin6</text>
<text class="bt" dy="3" transform="rotate(6.1) translate(178 0)" style="font-weight:bold">CheOpsin9</text>
<text class="bt" dy="3" transform="rotate(12.5) translate(178 0)">CheOpsin10</text>
<text class="bt" dy="3" transform="rotate(19) translate(178 0)">AGB67490</text>
<text class="bt" dy="3" transform="rotate(25.4) translate(178 0)">AGB67497</text>
<text class="bt" dy="3" transform="rotate(31.8) translate(178 0)">AGB67493</text>
<text class="bt" dy="3" transform="rotate(38.2) translate(178 0)">AGB67501</text>
<text class="bt" dy="3" transform="rotate(44.6) translate(178 0)">AGB67502</text>
<text class="bt" dy="3" transform="rotate(51.1) translate(178 0)">AGB67495</text>
<text class="bt" dy="3" transform="rotate(57.5) translate(178 0)">AGB67503</text>
<text class="bt" dy="3" transform="rotate(63.9) translate(178 0)">AGB67488</text>
<text class="bt" dy="3" transform="rotate(70.3) translate(178 0)">AGB67489</text>
<text class="bt" dy="3" transform="rotate(76.7) translate(178 0)">AGB67491</text>
<text class="bt" dy="3" transform="rotate(83.2) translate(178 0)">AGB67494</text>
<text class="bt" dy="3" transform="rotate(89.6) translate(178 0)">AGB67504</text>
<text class="bt" dy="3" transform="rotate(96) translate(178 0) rotate(180)">AGB67499</text>
<text class="bt" dy="3" transform="rotate(102.4) translate(178 0) rotate(180)">AGB67496</text>
<text class="bt" dy="3" transform="rotate(108.8) translate(178 0) rotate(180)">AGB67500</text>
<text class="bt" dy="3" transform="rotate(115.3) translate(178 0) rotate(180)">AGB67498</text>
<text class="bt" dy="3" transform="rotate(121.7) translate(178 0) rotate(180)">AGB67492</text>
<text class="bt" dy="3" transform="rotate(128.1) translate(178 0) rotate(180)">BAG80696</text>
<text class="bt" dy="3" transform="rotate(134.5) translate(178 0) rotate(180)">BAF95827</text>
<text class="bt" dy="3" transform="rotate(140.9) translate(178 0) rotate(180)">BAF95828</text>
<text class="bt" dy="3" transform="rotate(147.4) translate(178 0) rotate(180)">BAF95826</text>
<text class="bt" dy="3" transform="rotate(153.8) translate(178 0) rotate(180)">BAF95825</text>
<text class="bt" dy="3" transform="rotate(160.2) translate(178 0) rotate(180)">BAF95844</text>
<text class="bt" dy="3" transform="rotate(166.6) translate(178 0) rotate(180)">CheOpsin1</text>
<text class="bt" dy="3" transform="rotate(173) translate(178 0) rotate(180)">CheOpsin7</text>
<text class="bt" dy="3" transform="rotate(179.5) translate(178 0) rotate(180)">CheOpsin5</text>
<text class="bt" dy="3" transform="rotate(185.9) translate(178 0) rotate(180)">CheOpsin3</text>
<text class="bt" dy="3" transform="rotate(192.3) translate(178 0) rotate(180)">XP_0021632</text>
<text class="bt" dy="3" transform="rotate(198.7) translate(178 0) rotate(180)">BAD67142</text>
<text class="bt" dy="3" transform="rotate(205.1) translate(178 0) rotate(180)">BAD67141</text>
<text class="bt" dy="3" transform="rotate(211.6) translate(178 0) rotate(180)">BAD67143</text>
<text class="bt" dy="3" transform="rotate(218) translate(178 0) rotate(180)">XP_0021633</text>
<text class="bt" dy="3" transform="rotate(224.4) translate(178 0) rotate(180)">BAF95842</text>
<text class="bt" dy="3" transform="rotate(230.8) translate(178 0) rotate(180)">BAF95840</text>
<text class="bt" dy="3" transform="rotate(237.2) translate(178 0) rotate(180)">BAF95841</text>
<text class="bt" dy="3" transform="rotate(243.7) translate(178 0) rotate(180)">BAF95837</text>
<text class="bt" dy="3" transform="rotate(250.1) translate(178 0) rotate(180)">BAF95839</text>
<text class="bt" dy="3" transform="rotate(256.5) translate(178 0) rotate(180)">BAF95835</text>
<text class="bt" dy="3" transform="rotate(262.9) translate(178 0) rotate(180)">BAF95834</text>
<text class="bt" dy="3" transform="rotate(269.3) translate(178 0) rotate(180)">BAF95833</text>
<text class="bt" dy="3" transform="rotate(275.8) translate(178 0)">BAF95832</text>
<text class="bt" dy="3" transform="rotate(282.2) translate(178 0)">BAF95831</text>
<text class="bt" dy="3" transform="rotate(288.6) translate(178 0)">BAF95829</text>
<text class="bt" dy="3" transform="rotate(295) translate(178 0)">BAF95830</text>
<text class="bt" dy="3" transform="rotate(301.4) translate(178 0)">CheOpsin8</text>
<text class="bt" dy="3" transform="rotate(307.9) translate(178 0)">CheOpsin4</text>
<text class="bt" dy="3" transform="rotate(314.3) translate(178 0)">BAD67144</text>
<text class="bt" dy="3" transform="rotate(320.7) translate(178 0)">BAD67145</text>
<text class="bt" dy="3" transform="rotate(327.1) translate(178 0)">BAD67146</text>
<text class="bt" dy="3" transform="rotate(333.5) translate(178 0)">BAD67147</text>
<text class="bt" dy="3" transform="rotate(339.9) translate(178 0)">BAD67148</text>
<text class="bt" dy="3" transform="rotate(346.4) translate(178 0)">CheOpsin2</text>
<text class="bt" dy="3" transform="rotate(352.8) translate(178 0)">BAF95843</text>
</g>
</g>
<line x1="223" y1="861" x2="246" y2="861" stroke="#555" stroke-width="1.3"/>
<text x="234.5" y="871" text-anchor="middle" style="font-size:7.5px;fill:#555">0.4</text>

<g id="legendB">
<rect x="468.5" y="733.5" width="147" height="127" fill="#fff" stroke="#999"/>
<rect x="476" y="745.5" width="11" height="11" fill="#f0f7da" stroke="#999" stroke-width=".8"/><text class="lg i" x="492" y="755.5">Clytia hemisphaerica</text>
<rect x="476" y="761.5" width="11" height="11" fill="#cfe8f9" stroke="#999" stroke-width=".8"/><text class="lg i" x="492" y="771.5">Cladonema radiatum</text>
<rect x="476" y="777.5" width="11" height="11" fill="#82aaea" stroke="#999" stroke-width=".8"/><text class="lg i" x="492" y="787.5">Podocoryna carnea</text>
<rect x="476" y="793.5" width="11" height="11" fill="#cdf6e3" stroke="#999" stroke-width=".8"/><text class="lg i" x="492" y="803.5">Hydra vulgaris</text>
<rect x="476" y="809.5" width="11" height="11" fill="#b0b0b0" stroke="#999" stroke-width=".8"/><text class="lg i" x="492" y="819.5">Carybdea rastonii</text>
<rect x="476" y="825.5" width="11" height="11" fill="#e8e8e8" stroke="#999" stroke-width=".8"/><text class="lg i" x="492" y="835.5">Tripedalia cystophora</text>
<use xlink:href="#star" href="#star" transform="translate(481.5 847) scale(1.25)"/><text class="lg" x="492" y="851.5">Expressed in gonads</text>
</g>
</g>
</svg>
